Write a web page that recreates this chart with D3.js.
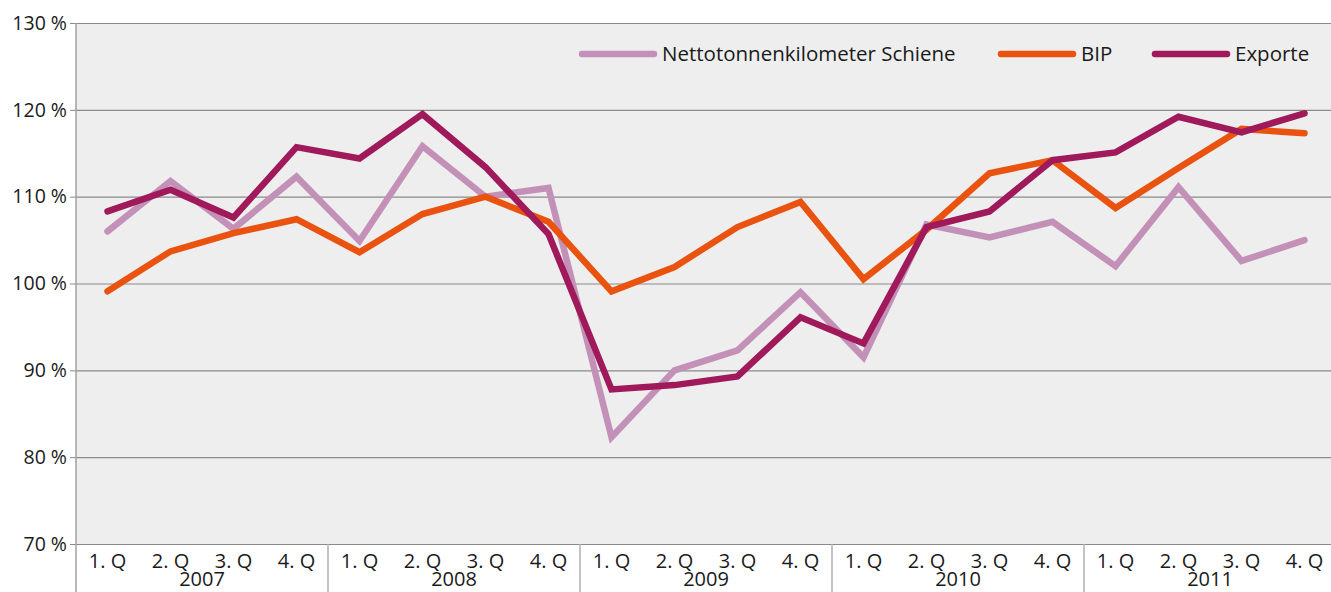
<!DOCTYPE html>
<html>
<head>
<meta charset="utf-8">
<script src="https://cdn.jsdelivr.net/npm/d3@7"></script>
<style>
  body { margin: 0; background: #fff; }
  text { font-family: "Open Sans", "Liberation Sans", sans-serif; fill: #1a1a1a; }
</style>
</head>
<body>
<div id="chart"></div>
<script>
// data
const years = ["2007", "2008", "2009", "2010", "2011"];
const quarters = ["1. Q", "2. Q", "3. Q", "4. Q"];
const yTicks = [70, 80, 90, 100, 110, 120, 130];

const netto = [106.0, 111.8, 106.3, 112.3, 104.9, 115.8, 110.0, 111.0,
               82.3, 90.0, 92.3, 99.0, 91.5, 106.8, 105.3, 107.1,
               102.0, 111.1, 102.6, 105.0];
const bip = [99.1, 103.7, 105.8, 107.4, 103.6, 108.0, 110.0, 107.1,
             99.1, 101.9, 106.5, 109.4, 100.5, 106.2, 112.7, 114.2,
             108.7, 113.3, 117.8, 117.3];
const exporte = [108.3, 110.8, 107.6, 115.7, 114.4, 119.5, 113.4, 105.7,
                 87.8, 88.3, 89.3, 96.1, 93.1, 106.5, 108.3, 114.2,
                 115.1, 119.2, 117.4, 119.6];

const seriesNames = ["Nettotonnenkilometer Schiene", "BIP", "Exporte"];
const seriesColors = ["#c390b8", "#e9520f", "#a0195b"];
const seriesData = [netto, bip, exporte];

const width = 1331, height = 592;
const margin = { left: 76, top: 23, right: -5, bottom: 48 };

const svg = d3.select("#chart").append("svg")
  .attr("width", width)
  .attr("height", height);

// one band per quarter
const keys = [];
years.forEach(y => quarters.forEach(q => keys.push(y + "|" + q)));

const x = d3.scaleBand()
  .domain(keys)
  .range([margin.left, width - margin.right]);

const y = d3.scaleLinear()
  .domain([70, 130])
  .range([height - margin.bottom, margin.top]);

// plot background
svg.append("rect")
  .attr("x", margin.left)
  .attr("y", margin.top)
  .attr("width", width - margin.right - margin.left)
  .attr("height", y(70) - y(130))
  .attr("fill", "#eeeeee");

// gridlines + y labels
const yAxis = svg.append("g")
  .attr("transform", `translate(${margin.left},0)`)
  .call(d3.axisLeft(y)
    .tickValues(yTicks)
    .tickSize(-(width - margin.right - margin.left))
    .tickPadding(10)
    .tickFormat(d => d + " %"));
yAxis.select(".domain").remove();
yAxis.selectAll(".tick line").attr("stroke", "#8a8a8a").attr("stroke-width", 1.2);
yAxis.selectAll(".tick text")
  .attr("x", -9)
  .style("font-size", "19.5px");
// small outer tick on the left
yAxis.selectAll(".tick").append("line")
  .attr("x1", -6).attr("x2", 0)
  .attr("stroke", "#8a8a8a");

// left axis line
svg.append("line")
  .attr("x1", margin.left).attr("x2", margin.left)
  .attr("y1", margin.top).attr("y2", height)
  .attr("stroke", "#a0a0a0").attr("stroke-width", 1.5);

// x axis: quarters
const xg = svg.append("g");
xg.selectAll("text.q")
  .data(keys)
  .join("text")
  .attr("class", "q")
  .attr("x", d => x(d) + x.bandwidth() / 2)
  .attr("y", 568)
  .attr("text-anchor", "middle")
  .style("font-size", "20px")
  .text(d => d.split("|")[1]);

// year labels
xg.selectAll("text.yr")
  .data(years)
  .join("text")
  .attr("class", "yr")
  .attr("x", d => x(d + "|" + quarters[0]) + x.bandwidth() * 2)
  .attr("y", 586)
  .attr("text-anchor", "middle")
  .style("font-size", "20px")
  .text(d => d);

// year separators
xg.selectAll("line.sep")
  .data(years.slice(1))
  .join("line")
  .attr("class", "sep")
  .attr("x1", d => x(d + "|" + quarters[0]))
  .attr("x2", d => x(d + "|" + quarters[0]))
  .attr("y1", y(70))
  .attr("y2", height)
  .attr("stroke", "#b0b0b0")
  .attr("stroke-width", 1.5);

// lines
const line = d3.line()
  .x((d, i) => x(keys[i]) + x.bandwidth() / 2)
  .y(d => y(d));

svg.selectAll("path.series")
  .data(seriesData)
  .join("path")
  .attr("class", "series")
  .attr("d", line)
  .attr("fill", "none")
  .attr("stroke", (d, i) => seriesColors[i])
  .attr("stroke-width", 6.5)
  .attr("stroke-linejoin", "miter")
  .attr("stroke-linecap", "round");

// legend
const legendX = [582, 1001, 1155];
const legend = svg.append("g");
seriesNames.forEach((name, i) => {
  const g = legend.append("g").attr("transform", `translate(${legendX[i]},54)`);
  g.append("line")
    .attr("x1", 0).attr("x2", 72)
    .attr("stroke", seriesColors[i])
    .attr("stroke-width", 6.5)
    .attr("stroke-linecap", "round");
  g.append("text")
    .attr("x", 80)
    .attr("dy", "0.35em")
    .style("font-size", "20.5px")
    .text(name);
});
</script>
</body>
</html>
